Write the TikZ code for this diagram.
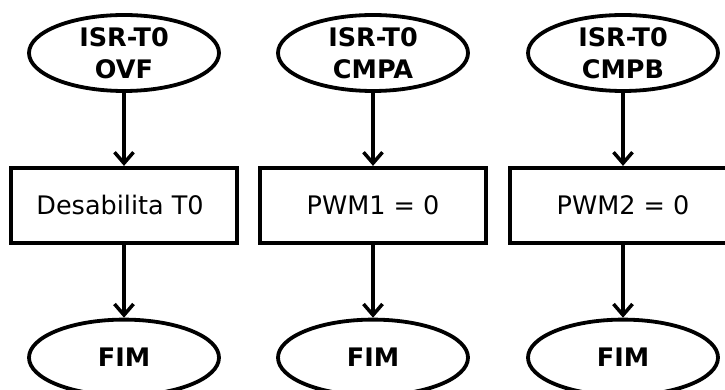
\documentclass[tikz,border=0pt]{standalone}
\usepackage{fontspec}
\setmainfont{DejaVu Sans}
\usepackage{tikz}
\usetikzlibrary{shapes.geometric, arrows.meta, positioning}
\tikzstyle{term} = [ellipse, draw, line width=3.8pt, minimum width=190pt, minimum height=76pt, inner sep=0pt, align=center, font=\fontsize{25.5}{32}\selectfont\bfseries]
\tikzstyle{proc} = [rectangle, draw, line width=3.8pt, minimum width=226pt, minimum height=75pt, inner sep=0pt, font=\fontsize{25.5}{32}\selectfont]
\tikzstyle{line} = [draw, line width=3.5pt, -{Straight Barb[length=11pt, width=19pt, line width=3.5pt]}]

\begin{document}
\begin{tikzpicture}[x=1pt, y=-1pt, node distance=73pt]
			\useasboundingbox (0, 0) rectangle (725, 390);
			\node [term] (ovf) at (124, 53) {ISR-T0\\OVF};
			\node [term] (cmpa) at (373, 53) {ISR-T0\\CMPA};
			\node [term] (cmpb) at (623, 53) {ISR-T0\\CMPB};
			
			\node [proc, below=of ovf] (t0) {Desabilita T0\hspace*{8pt}};
			\node [proc, below=of cmpa] (pwma) {PWM1 = 0};
			\node [proc, below=of cmpb] (pwmb) {PWM2 = 0};
			
			\node [term, below=of t0] (fima) {FIM};
			\node [term, below=of pwma] (fimb) {FIM};
			\node [term, below=of pwmb] (fimc) {FIM};
			
			\path [line] (ovf) -- (t0);
			\path [line] (t0) -- (fima);
			\path [line] (cmpa) -- (pwma);
			\path [line] (pwma) -- (fimb);
			\path [line] (cmpb) -- (pwmb);
			\path [line] (pwmb) -- (fimc);
		\end{tikzpicture}
\end{document}
